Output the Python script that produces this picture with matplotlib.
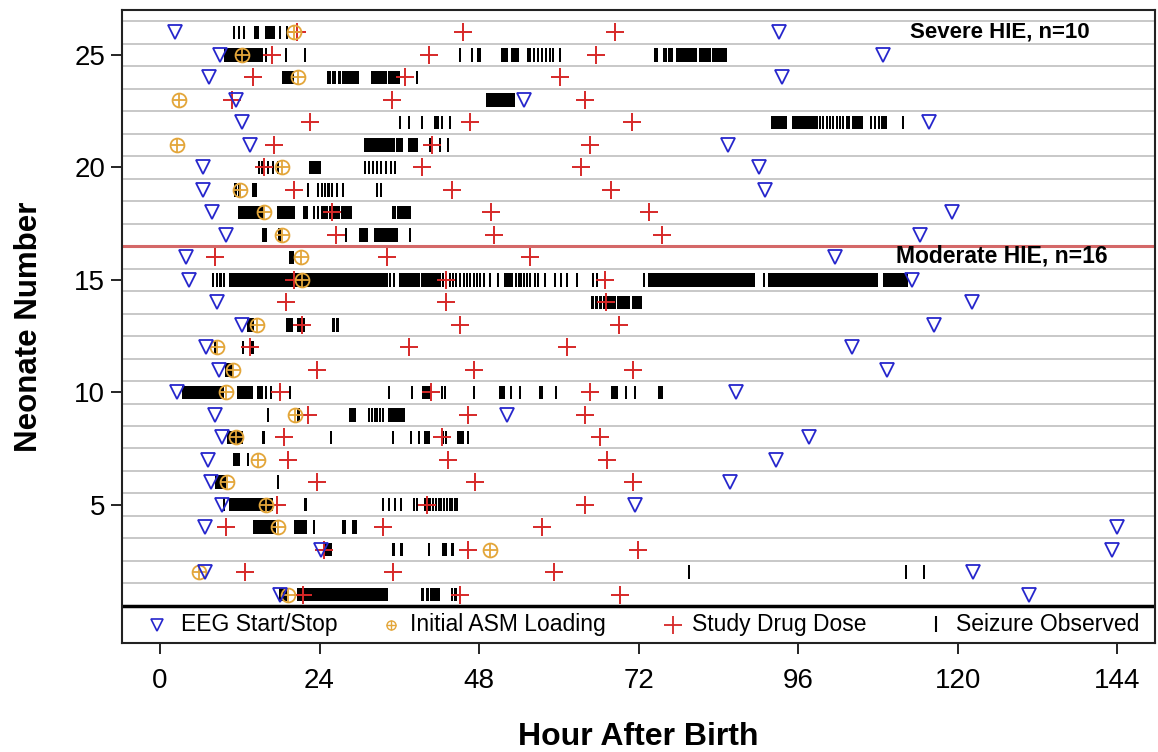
import matplotlib
matplotlib.use("Agg")
import matplotlib.pyplot as plt
import numpy as np

plt.rcParams['font.family'] = ['Liberation Sans', 'DejaVu Sans']

# ---------------- data (hours after birth) ----------------
neonates = list(range(1, 27))

eeg_start = [18.0, 6.8, 24.2, 6.8, 9.4, 7.6, 7.2, 9.3, 8.2, 2.6, 8.8, 6.9, 12.3,
             8.5, 4.4, 3.9, 9.9, 7.8, 6.5, 6.4, 13.5, 12.3, 11.5, 7.3, 9.0, 2.3]
eeg_stop = [130.8, 122.3, 143.2, 144.0, 71.4, 85.7, 92.7, 97.6, 52.2, 86.7, 109.4, 104.1, 116.5,
            122.1, 113.2, 101.5, 114.4, 119.1, 91.0, 90.1, 85.5, 115.7, 54.8, 93.6, 108.8, 93.1]
asm_time = [19.3, 5.8, 49.6, 17.7, 16.0, 10.1, 14.8, 11.5, 20.3, 9.9, 11.0, 8.6, 14.6,
            np.nan, 21.3, 21.2, 18.3, 15.6, 12.0, 18.4, 2.5, np.nan, 2.8, 20.8, 12.3, 20.1]
dose1 = [21.5, 12.8, 24.7, 9.9, 17.6, 23.6, 19.3, 18.7, 22.2, 18.0, 23.6, 13.5, 21.3,
         19.0, 20.1, 8.3, 26.5, 25.9, 20.1, 15.6, 17.2, 22.6, 10.8, 14.0, 16.8, 20.6]
dose2 = [45.1, 35.1, 46.4, 33.6, 40.2, 47.4, 43.4, 42.4, 46.3, 40.7, 47.3, 37.5, 45.2,
         43.0, 43.1, 34.1, 50.2, 49.8, 43.9, 39.4, 40.9, 46.6, 34.9, 36.9, 40.4, 45.6]
dose3 = [69.2, 59.3, 71.9, 57.4, 63.9, 71.1, 67.2, 66.2, 63.9, 64.7, 71.1, 61.2, 69.1,
         67.1, 67.0, 55.7, 75.5, 73.5, 67.8, 63.4, 64.7, 71.0, 63.9, 60.2, 65.6, 68.5]

# seizure observations per neonate: (start, end) hours; single ticks have start == end
seizures = {
    1: [(18.0, 19.0), (20.8, 21.0), (21.4, 22.5), (22.8, 24.0), (24.3, 26.5), (26.8, 27.5),
        (27.8, 31.5), (31.8, 32.5), (32.8, 33.3), (33.6, 34.1), (39.4, 39.6), (40.1, 40.3),
        (40.8, 41.9), (43.9, 44.0), (44.4, 44.6)],
    2: [(79.6, 79.6), (112.3, 112.3), (115.0, 115.0)],
    3: [(24.8, 25.8), (35.1, 35.2), (36.3, 36.4), (40.5, 40.5), (42.6, 43.1), (43.9, 44.1)],
    4: [(14.2, 17.3), (20.3, 22.0), (23.2, 23.2), (27.5, 27.9), (29.0, 29.5)],
    5: [(9.6, 9.6), (10.6, 16.8), (21.8, 21.9), (33.5, 33.5), (34.4, 34.4), (35.4, 35.4),
        (36.3, 36.3), (38.2, 38.2), (38.6, 38.6), (39.9, 40.6), (41.0, 41.0), (41.5, 41.5),
        (41.9, 41.9), (42.3, 42.3), (42.8, 42.8), (43.2, 43.2), (43.6, 43.6), (44.0, 44.0),
        (44.4, 44.4), (44.7, 44.7)],
    6: [(8.4, 9.8), (17.7, 17.7)],
    7: [(11.2, 11.9), (13.2, 13.3)],
    8: [(10.3, 12.3), (15.5, 15.6), (25.7, 25.7), (35.1, 35.1), (37.8, 37.8), (38.9, 38.9),
        (39.9, 40.5), (42.4, 42.6), (43.0, 43.1), (44.8, 45.6), (46.4, 46.4)],
    9: [(16.3, 16.3), (20.8, 20.9), (28.6, 29.3), (31.5, 31.5), (31.9, 31.9), (32.3, 32.3),
        (32.7, 32.7), (33.1, 33.1), (33.5, 33.6), (34.5, 35.0), (35.3, 35.8), (36.1, 36.7)],
    10: [(3.5, 9.5), (11.8, 12.8), (13.0, 13.8), (14.8, 15.3), (16.0, 16.0), (16.7, 16.7),
         (18.0, 18.0), (19.5, 19.5), (34.5, 34.5), (37.9, 37.9), (39.6, 40.6), (42.4, 42.4),
         (42.9, 42.9), (47.2, 47.2), (51.2, 51.7), (52.8, 52.8), (54.1, 54.1), (57.1, 57.4),
         (59.6, 59.6), (68.0, 68.8), (70.1, 70.1), (71.4, 71.4), (75.1, 75.5)],
    11: [(9.9, 10.8)],
    12: [(8.3, 8.3), (12.5, 12.5), (13.9, 14.0)],
    13: [(13.2, 14.0), (19.1, 19.2), (19.6, 19.8), (20.8, 21.6), (26.1, 26.2), (26.6, 26.8)],
    14: [(65.0, 65.2), (65.6, 65.8), (66.2, 66.4), (66.8, 67.0), (67.3, 68.5), (68.9, 69.6),
         (69.9, 70.6), (71.2, 72.3)],
    15: [(8.0, 8.0), (8.5, 8.5), (9.0, 9.2), (9.6, 9.7), (10.5, 34.1), (34.6, 34.6),
         (35.2, 35.2), (36.1, 38.5), (38.8, 39.0), (39.4, 42.1), (42.6, 42.6), (43.1, 43.1),
         (43.6, 43.6), (44.1, 44.1), (44.6, 44.6), (45.1, 45.1), (45.7, 45.7), (46.2, 46.2),
         (46.7, 46.7), (47.2, 47.2), (47.7, 47.7), (48.2, 48.2), (48.7, 48.7), (49.7, 49.7),
         (50.9, 50.9), (51.9, 52.6), (53.0, 53.0), (53.5, 53.5), (54.0, 54.3), (54.7, 54.7),
         (55.2, 55.2), (55.7, 55.7), (56.4, 56.4), (56.9, 56.9), (57.9, 57.9), (59.4, 59.4),
         (60.4, 60.4), (61.2, 61.2), (62.7, 62.7), (65.2, 65.2), (65.8, 65.8), (72.8, 72.8),
         (73.6, 89.3), (90.8, 90.8), (91.6, 107.8), (108.9, 112.4)],
    16: [(19.6, 20.0)],
    17: [(15.5, 16.0), (17.9, 18.1), (28.0, 28.0), (30.1, 30.5), (30.8, 31.1), (32.4, 34.6),
         (34.9, 35.2), (35.5, 35.6), (37.6, 37.6)],
    18: [(11.9, 13.7), (14.0, 15.5), (17.8, 20.1), (21.6, 22.1), (23.1, 23.1), (23.8, 23.8),
         (24.3, 25.1), (25.6, 27.0), (27.4, 28.8), (35.1, 35.4), (35.8, 36.2), (36.5, 37.6)],
    19: [(11.3, 11.4), (11.9, 12.0), (14.0, 14.4), (22.2, 22.2), (23.8, 23.8), (24.3, 24.3),
         (24.8, 24.8), (25.3, 25.4), (25.9, 25.9), (26.6, 26.6), (27.6, 27.6), (32.6, 32.7),
         (33.2, 33.3)],
    20: [(14.9, 14.9), (15.4, 15.4), (16.3, 16.3), (17.0, 17.0), (17.8, 17.8), (22.6, 23.1),
         (23.5, 24.0), (30.8, 30.8), (31.4, 31.4), (32.0, 32.0), (32.7, 32.7), (33.3, 33.3),
         (34.0, 34.0), (34.8, 34.8), (35.4, 35.4)],
    21: [(30.8, 31.5), (31.8, 33.3), (33.6, 35.2), (35.6, 36.4), (37.4, 38.6), (40.6, 40.6),
         (42.1, 42.1), (43.4, 43.4)],
    22: [(36.1, 36.1), (37.5, 37.5), (39.4, 39.4), (41.4, 41.8), (42.4, 42.4), (43.6, 43.6),
         (92.1, 94.2), (95.2, 98.9), (99.3, 99.3), (99.8, 99.8), (100.3, 100.3), (100.8, 100.8),
         (101.3, 101.3), (101.8, 101.8), (102.3, 102.3), (102.8, 102.8), (103.4, 103.6),
         (104.3, 105.6), (106.9, 106.9), (107.5, 107.5), (108.1, 108.1), (108.7, 109.2),
         (111.8, 111.8)],
    23: [(49.2, 50.6), (50.9, 52.0), (52.3, 53.2)],
    24: [(18.5, 20.0), (25.3, 25.6), (26.0, 26.4), (26.9, 27.1), (27.5, 29.8), (31.9, 34.0),
         (34.4, 35.9), (38.6, 38.6)],
    25: [(9.8, 12.0), (12.4, 13.4), (13.7, 14.5), (14.8, 15.3), (16.0, 16.0), (18.9, 18.9),
         (21.8, 21.8), (45.2, 45.2), (46.9, 46.9), (47.8, 48.1), (51.4, 52.2), (52.9, 53.9),
         (55.4, 55.6), (56.2, 56.2), (56.9, 56.9), (57.4, 57.4), (58.0, 58.0), (58.6, 58.6),
         (59.1, 59.1), (60.2, 60.2), (74.4, 74.8), (75.8, 76.2), (76.6, 77.0), (77.8, 80.6),
         (81.2, 82.7), (83.2, 85.1)],
    26: [(11.2, 11.2), (11.9, 11.9), (12.7, 12.7), (14.3, 14.7), (16.0, 16.4), (16.6, 17.2),
         (18.0, 18.0), (19.1, 19.1)],
}

x_ticks = [0, 24, 48, 72, 96, 120, 144]
y_ticks = [5, 10, 15, 20, 25]
legend_labels = ["EEG Start/Stop", "Initial ASM Loading", "Study Drug Dose", "Seizure Observed"]
group_labels = ["Severe HIE, n=10", "Moderate HIE, n=16"]

# ---------------- styles ----------------
C_EEG = "#2626CC"
C_ASM = "#E3A63A"
C_DOSE = "#D62828"
C_GRID = "#C4C4C4"

fig = plt.figure(figsize=(11.58, 7.52), dpi=100)
ax = fig.add_axes([122 / 1158, 1 - 643 / 752, (1155 - 122) / 1158, (643 - 10) / 752])

ax.set_xlim(-5.72, 149.7)
ax.set_ylim(-1.15, 27.0)

# row separators
for r in range(1, 27):
    ax.axhline(r + 0.5, color=C_GRID, lw=1.3, zorder=1)
ax.axhline(16.5, color="#D46868", lw=2.2, zorder=2)
ax.axhline(0.5, color="black", lw=2.5, zorder=2)

# seizures
TW = 0.3
for r in neonates:
    bars = [(s, max(e - s, 0) + TW) for s, e in seizures[r]]
    ax.broken_barh([(s - TW / 2, w) for s, w in bars], (r - 0.3, 0.6),
                   facecolors="black", edgecolors="none", zorder=3)

y = np.array(neonates, dtype=float)
# doses
for d in (dose1, dose2, dose3):
    ax.plot(d, y, ls="none", marker="+", ms=13, mew=1.4, color=C_DOSE, zorder=5)
# ASM
ax.plot(asm_time, y, ls="none", marker="o", ms=10, mew=1.3, mfc="none", mec=C_ASM, zorder=6)
ax.plot(asm_time, y, ls="none", marker="+", ms=10, mew=1.3, color=C_ASM, zorder=6)
# EEG start/stop
for e in (eeg_start, eeg_stop):
    ax.plot(e, y, ls="none", marker="v", ms=10, mew=1.3, mfc="none", mec=C_EEG, zorder=7)

# group labels
ax.text(112.8, 26.0, group_labels[0], fontsize=16, fontweight="bold", va="center", ha="left", zorder=8)
ax.text(110.8, 16.05, group_labels[1], fontsize=16.5, fontweight="bold", va="center", ha="left", zorder=8)

# legend inside bottom strip
ly = -0.32
FS_LEG = 16.5
ax.plot([-0.4], [ly - 0.05], ls="none", marker="v", ms=8, mew=1.2, mfc="none", mec=C_EEG)
ax.text(3.1, ly, legend_labels[0], fontsize=FS_LEG, va="center", ha="left")
ax.plot([34.8], [ly - 0.05], ls="none", marker="o", ms=6.5, mew=1.0, mfc="none", mec=C_ASM)
ax.plot([34.8], [ly - 0.05], ls="none", marker="+", ms=6.5, mew=1.0, color=C_ASM)
ax.text(37.6, ly, legend_labels[1], fontsize=FS_LEG, va="center", ha="left")
ax.plot([77.2], [ly - 0.05], ls="none", marker="+", ms=13, mew=1.3, color=C_DOSE)
ax.text(80.0, ly, legend_labels[2], fontsize=FS_LEG, va="center", ha="left")
ax.plot([116.8], [ly], ls="none", marker="|", ms=11, mew=1.5, color="black")
ax.text(119.8, ly, legend_labels[3], fontsize=FS_LEG, va="center", ha="left")

# axes cosmetics
ax.set_xticks(x_ticks)
ax.set_yticks(y_ticks)
ax.tick_params(axis="both", direction="out", length=8, width=1.2, labelsize=20, colors="black")
ax.tick_params(axis="x", pad=10)
ax.tick_params(axis="y", pad=4)
for s in ax.spines.values():
    s.set_linewidth(1.5)
    s.set_color("#222222")
ax.set_xlabel("Hour After Birth", fontsize=23, fontweight="bold", labelpad=20)
ax.set_ylabel("Neonate Number", fontsize=22.5, fontweight="bold", labelpad=22)

fig.savefig("out.png", dpi=100)
